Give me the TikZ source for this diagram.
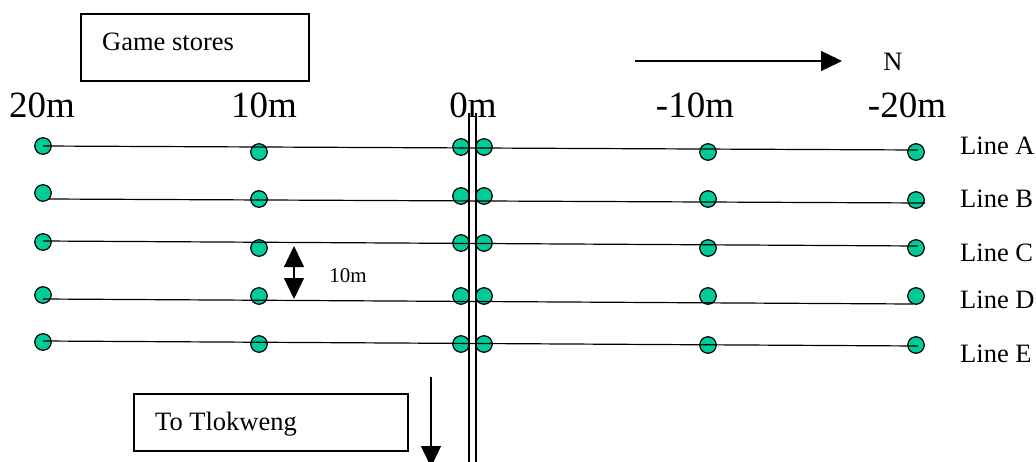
\documentclass[tikz,border=0pt]{standalone}
\usepackage{fontspec}
\setmainfont{Liberation Serif}
\usetikzlibrary{arrows.meta}
\definecolor{dotgreen}{RGB}{0,204,153}
\tikzset{
  dot/.style={circle,draw=black,fill=dotgreen,line width=1.2pt,minimum size=16.5pt,inner sep=0pt},
  gridline/.style={draw=black,line width=1.2pt},
  bigtxt/.style={inner sep=0pt,anchor=base,font=\fontsize{37}{40}\selectfont},
  smalltxt/.style={inner sep=0pt,anchor=base west,font=\fontsize{26.5}{30}\selectfont},
  box/.style={draw=black,line width=1.5pt,inner sep=0pt},
  bigarrow/.style={line width=1.4pt,-{Triangle[length=21pt,width=20pt]}},
}
\begin{document}
\begin{tikzpicture}[x=1pt,y=-1pt]
\useasboundingbox (0,0) rectangle (1036,461);
% boxes
\node[box,minimum width=228pt,minimum height=67pt] (gsbox) at (195,47.5) {};
\node[smalltxt] (gstxt) at (102,50) {Game stores};
\node[box,minimum width=274pt,minimum height=57pt] (ttbox) at (271,422.5) {};
\node[smalltxt] (tttxt) at (155,430) {To Tlokweng};
% north arrow
\coordinate (n1) at (635,61);
\coordinate (n2) at (842,61);
\draw[bigarrow] (n1) -- (n2);
\node[smalltxt,anchor=base] (N) at (893,70) {N};
% distance labels
\node[bigtxt] (l20) at (42,117) {20m};
\node[bigtxt] (l10) at (264,117) {10m};
\node[bigtxt] (l0) at (473,117) {0m};
\node[bigtxt] (lm10) at (695,117) {-10m};
\node[bigtxt] (lm20) at (907,117) {-20m};
% dots
\foreach \r/\ya/\yb/\yc/\yd/\ye/\yf in {A/146/152/147/147/152/152,B/193/199/196/196/199/200,C/242/248/243/243/248/248,D/295/296/296/296/296/296,E/342/344/344/344/345/345}{
  \node[dot] (\r1) at (43,\ya) {};
  \node[dot] (\r2) at (259,\yb) {};
  \node[dot] (\r3) at (461,\yc) {};
  \node[dot] (\r4) at (484,\yd) {};
  \node[dot] (\r5) at (708,\ye) {};
  \node[dot] (\r6) at (916,\yf) {};
}
% line ends
\coordinate (As) at (43,146);  \coordinate (Ae) at (918,150);
\coordinate (Bs) at (48,199);  \coordinate (Be) at (925,203);
\coordinate (Cs) at (43,241);  \coordinate (Ce) at (918,246);
\coordinate (Ds) at (43,299);  \coordinate (De) at (913,304);
\coordinate (Es) at (43,341);  \coordinate (Ee) at (918,346);
\foreach \r in {A,B,C,D,E}{ \draw[gridline] (\r s) -- (\r e); }
% road (double line)
\coordinate (v1t) at (469,113); \coordinate (v1b) at (469,470);
\coordinate (v2t) at (476,113); \coordinate (v2b) at (476,470);
\draw[gridline] (v1t) -- (v1b);
\draw[gridline] (v2t) -- (v2b);
% line labels
\node[smalltxt] (LA) at (960,154) {Line A};
\node[smalltxt] (LB) at (960,207) {Line B};
\node[smalltxt] (LC) at (960,261) {Line C};
\node[smalltxt] (LD) at (960,308) {Line D};
\node[smalltxt] (LE) at (960,362) {Line E};
% spacing arrow
\coordinate (s1) at (294,246);
\coordinate (s2) at (294,299);
\draw[line width=1.4pt,{Triangle[length=21pt,width=20pt]}-{Triangle[length=21pt,width=20pt]}] (s1) -- (s2);
\node[inner sep=0pt,anchor=base,font=\fontsize{21}{24}\selectfont] (sp) at (348,282) {10m};
% to Tlokweng arrow
\coordinate (t1) at (431,377);
\coordinate (t2) at (431,467);
\draw[bigarrow] (t1) -- (t2);
\end{tikzpicture}
\end{document}
